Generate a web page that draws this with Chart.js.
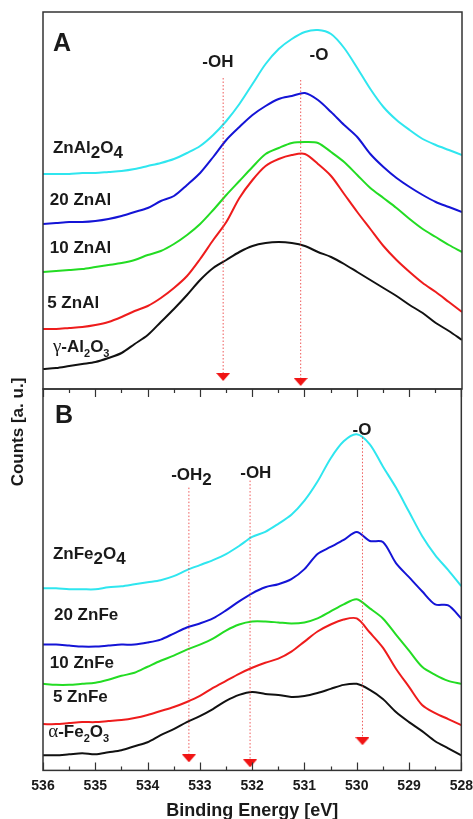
<!DOCTYPE html>
<html>
<head>
<meta charset="utf-8">
<script src="https://cdn.jsdelivr.net/npm/chart.js@4.4.1/dist/chart.umd.min.js"></script>
<style>
    html, body { margin: 0; padding: 0; background: #fff; overflow: hidden; }
    #wrap { position: relative; width: 473px; height: 819px; }
    canvas { position: absolute; left: 0; }
    #chartA { top: 0; }
    #chartB { top: 380px; }
    #ytitle {
        position: absolute; left: -62px; top: 422px; width: 160px; height: 20px;
        line-height: 20px; text-align: center; transform: rotate(-90deg);
        font: bold 17px "Liberation Sans", Arial, sans-serif; color: #1a1a1a; white-space: nowrap;
    }
</style>
</head>
<body>
<div id="wrap">
    <canvas id="chartA" width="480" height="395"></canvas>
    <canvas id="chartB" width="480" height="441"></canvas>
    <div id="ytitle">Counts [a. u.]</div>
</div>
<script>
// Binding energy grid shared by every spectrum (eV)
const energies = [536, 535.75, 535.5, 535.25, 535, 534.75, 534.5, 534.25, 534, 533.75, 533.5, 533.25, 533,
    532.75, 532.5, 532.25, 532, 531.75, 531.5, 531.25, 531, 530.75, 530.5, 530.25, 530,
    529.75, 529.5, 529.25, 529, 528.75, 528.5, 528.25, 528];

// Panel A - O 1s, Zn/Al samples (offset counts, a.u.)
const znAl2O4 = [215, 215, 215, 216, 216, 217, 218, 220, 223, 226, 230, 236, 243, 254, 268, 285, 305, 325, 340, 350, 357, 359, 355, 341, 321, 300, 282, 269, 259, 250, 244, 239, 234];
const znAl20 = [165, 166, 167, 167, 168, 170, 173, 177, 181, 188, 193, 204, 216, 232, 249, 262, 274, 283, 290, 293, 296, 289, 277, 264, 252, 235, 222, 211, 202, 194, 187, 182, 177];
const znAl10 = [117, 118, 119, 120, 122, 124, 126, 129, 134, 138, 145, 154, 165, 179, 194, 208, 222, 235, 241, 246, 247, 246, 237, 227, 214, 201, 191, 181, 170, 160, 152, 144, 137];
const znAl5 = [60, 60, 61, 62, 64, 67, 72, 78, 83, 91, 101, 113, 130, 149, 167, 191, 209, 223, 230, 234, 235, 225, 213, 195, 177, 160, 143, 129, 117, 106, 97, 87, 77];
const gammaAl2O3 = [20, 21, 23, 25, 27, 31, 36, 45, 54, 67, 80, 94, 109, 121, 129, 137, 143, 146, 147, 146, 143, 137, 132, 125, 117, 109, 101, 93, 84, 76, 66, 58, 49];

// Panel B - O 1s, Zn/Fe samples
const znFe2O4 = [181, 181, 180, 180, 180, 182, 183, 185, 187, 189, 193, 199, 204, 209, 215, 223, 232, 237, 245, 254, 268, 287, 310, 327, 334, 324, 302, 281, 257, 233, 214, 199, 183];
const znFe20 = [125, 125, 124, 123, 123, 124, 125, 125, 127, 130, 136, 142, 146, 151, 159, 168, 176, 182, 185, 190, 200, 215, 222, 229, 237, 228, 227, 206, 192, 178, 165, 164, 151];
const znFe10 = [86, 85, 85, 86, 87, 90, 94, 97, 103, 109, 114, 120, 125, 131, 139, 145, 148, 148, 147, 146, 147, 151, 158, 165, 170, 161, 151, 135, 119, 103, 95, 89, 86];
const znFe5 = [46, 46, 47, 48, 48, 49, 50, 52, 55, 59, 63, 68, 74, 82, 89, 96, 102, 107, 111, 118, 128, 138, 145, 150, 151, 137, 122, 101, 83, 65, 57, 51, 45];
const alphaFe2O3 = [15, 15, 16, 17, 16, 18, 20, 24, 28, 35, 41, 48, 54, 61, 69, 75, 78, 76, 75, 73, 74, 77, 81, 85, 86, 80, 71, 58, 48, 39, 29, 22, 15];

// Component positions (eV) with dotted guide top and arrow height
const peaksA = [532.56, 531.08];
const peakTopA = [311, 309];
const arrowA = [12, 7];
const peaksB = [533.21, 532.04, 529.89];
const peakTopB = [281, 288, 331];
const arrowB = [12, 7, 29];

// x-axis ticks
const xMin = 528, xMax = 536;

const colors = ['#2fe6ef', '#1414d6', '#23dc23', '#ee1c1c', '#111111'];
const FONT = '"Liberation Sans", Arial, sans-serif';

// Flat red arrow head used for the peak markers
function makeArrow() {
    const c = document.createElement('canvas');
    c.width = 14; c.height = 8;
    const g = c.getContext('2d');
    g.fillStyle = '#f01414';
    g.beginPath();
    g.moveTo(0, 0); g.lineTo(14, 0); g.lineTo(7, 8); g.closePath();
    g.fill();
    return c;
}
const arrowImg = makeArrow();

function spectrum(vals, color) {
    return {
        type: 'line',
        data: energies.map((e, i) => ({ x: e, y: vals[i] })),
        borderColor: color,
        borderWidth: 2,
        pointRadius: 0,
        tension: 0.3,
        order: 2
    };
}

function markerSets(peaks, tops, arrows) {
    const sets = [];
    peaks.forEach((e, i) => {
        sets.push({
            type: 'line',
            data: [{ x: e, y: tops[i] }, { x: e, y: arrows[i] }],
            borderColor: 'rgba(235, 60, 60, 0.85)',
            borderWidth: 1,
            borderDash: [1.5, 2],
            pointRadius: 0,
            order: 1
        });
        sets.push({
            type: 'scatter',
            data: [{ x: e, y: arrows[i] }],
            pointStyle: arrowImg,
            order: 0
        });
    });
    return sets;
}

// Frame round the plot area
const framePlugin = {
    id: 'frame',
    afterDraw(chart) {
        const { ctx, chartArea: a } = chart;
        ctx.save();
        ctx.strokeStyle = '#333';
        ctx.lineWidth = 1.5;
        ctx.strokeRect(a.left, a.top, a.right - a.left, a.bottom - a.top);
        ctx.restore();
    }
};

// Inward ticks on top and bottom of the lower panel
const innerTicks = {
    id: 'innerTicks',
    afterDraw(chart) {
        const { ctx, chartArea: a, scales: { x } } = chart;
        ctx.save();
        ctx.strokeStyle = '#333';
        ctx.lineWidth = 1.2;
        for (let e = xMin; e <= xMax; e += 0.5) {
            const px = Math.round(x.getPixelForValue(e)) + 0.5;
            const len = Number.isInteger(e) ? 8 : 4;
            ctx.beginPath();
            ctx.moveTo(px, a.bottom); ctx.lineTo(px, a.bottom - len);
            ctx.moveTo(px, a.top); ctx.lineTo(px, a.top + len);
            ctx.stroke();
        }
        ctx.restore();
    }
};

// Text styles: n normal, s large subscript, t small subscript, g greek, L panel letter
const styles = {
    n: { font: 'bold 17px ' + FONT, dy: 0 },
    s: { font: 'bold 17px ' + FONT, dy: 5 },
    t: { font: 'bold 11px ' + FONT, dy: 7 },
    g: { font: '19px "Liberation Serif", serif', dy: 0 },
    L: { font: 'bold 25px ' + FONT, dy: 0 }
};

function makeNotes(items) {
    return {
        id: 'notes',
        afterDraw(chart) {
            const { ctx, scales: { x, y } } = chart;
            ctx.save();
            ctx.fillStyle = '#1a1a1a';
            ctx.textBaseline = 'middle';
            items.forEach(item => {
                let width = 0;
                item.parts.forEach(([t, s]) => {
                    ctx.font = styles[s].font;
                    width += ctx.measureText(t).width;
                });
                let px = x.getPixelForValue(item.e);
                if (item.center) px -= width / 2;
                const py = y.getPixelForValue(item.v);
                item.parts.forEach(([t, s]) => {
                    ctx.font = styles[s].font;
                    ctx.fillText(t, px, py + styles[s].dy);
                    px += ctx.measureText(t).width;
                });
            });
            ctx.restore();
        }
    };
}

const notesA = [
    { e: 535.81, v: 345, parts: [['A', 'L']] },
    { e: 535.81, v: 241, parts: [['ZnAl', 'n'], ['2', 's'], ['O', 'n'], ['4', 's']] },
    { e: 535.87, v: 189, parts: [['20 ZnAl', 'n']] },
    { e: 535.87, v: 141, parts: [['10 ZnAl', 'n']] },
    { e: 535.92, v: 86, parts: [['5 ZnAl', 'n']] },
    { e: 535.81, v: 42, parts: [['γ', 'g'], ['-Al', 'n'], ['2', 't'], ['O', 'n'], ['3', 't']] },
    { e: 532.66, v: 327, center: true, parts: [['-OH', 'n']] },
    { e: 530.73, v: 334, center: true, parts: [['-O', 'n']] }
];

const notesB = [
    { e: 535.77, v: 352, parts: [['B', 'L']] },
    { e: 535.81, v: 215, parts: [['ZnFe', 'n'], ['2', 's'], ['O', 'n'], ['4', 's']] },
    { e: 535.79, v: 154, parts: [['20 ZnFe', 'n']] },
    { e: 535.87, v: 106, parts: [['10 ZnFe', 'n']] },
    { e: 535.81, v: 73, parts: [['5 ZnFe', 'n']] },
    { e: 535.90, v: 38, parts: [['α', 'g'], ['-Fe', 'n'], ['2', 't'], ['O', 'n'], ['3', 't']] },
    { e: 533.16, v: 293, center: true, parts: [['-OH', 'n'], ['2', 's']] },
    { e: 531.93, v: 295, center: true, parts: [['-OH', 'n']] },
    { e: 529.90, v: 338, center: true, parts: [['-O', 'n']] }
];

function xScale(show) {
    return {
        type: 'linear',
        min: xMin,
        max: xMax,
        reverse: true,
        display: show,
        grid: { display: false, drawTicks: false },
        border: { display: false },
        ticks: {
            stepSize: 1,
            padding: 7,
            color: '#1a1a1a',
            font: { family: FONT, size: 14, weight: 'bold' },
            callback: v => v.toString()
        },
        title: {
            display: show,
            text: 'Binding Energy [eV]',
            color: '#1a1a1a',
            padding: 0,
            font: { family: FONT, size: 18, weight: 'bold', lineHeight: 1.1 }
        }
    };
}

function baseOptions(showX, yMax, padding) {
    return {
        responsive: false,
        animation: false,
        layout: { padding: padding },
        plugins: { legend: { display: false }, tooltip: { enabled: false } },
        scales: {
            x: xScale(showX),
            y: { type: 'linear', min: 0, max: yMax, display: false }
        }
    };
}

const seriesA = [znAl2O4, znAl20, znAl10, znAl5, gammaAl2O3];
const seriesB = [znFe2O4, znFe20, znFe10, znFe5, alphaFe2O3];

new Chart(document.getElementById('chartA'), {
    type: 'line',
    data: {
        datasets: seriesA.map((s, i) => spectrum(s, colors[i])).concat(markerSets(peaksA, peakTopA, arrowA))
    },
    options: baseOptions(false, 377, { left: 43, right: 18, top: 12, bottom: 6 }),
    plugins: [framePlugin, makeNotes(notesA)]
});

new Chart(document.getElementById('chartB'), {
    type: 'line',
    data: {
        datasets: seriesB.map((s, i) => spectrum(s, colors[i])).concat(markerSets(peaksB, peakTopB, arrowB))
    },
    options: baseOptions(true, 379, { left: 43, right: 18, top: 9, bottom: 0 }),
    plugins: [framePlugin, innerTicks, makeNotes(notesB)]
});
</script>
</body>
</html>
